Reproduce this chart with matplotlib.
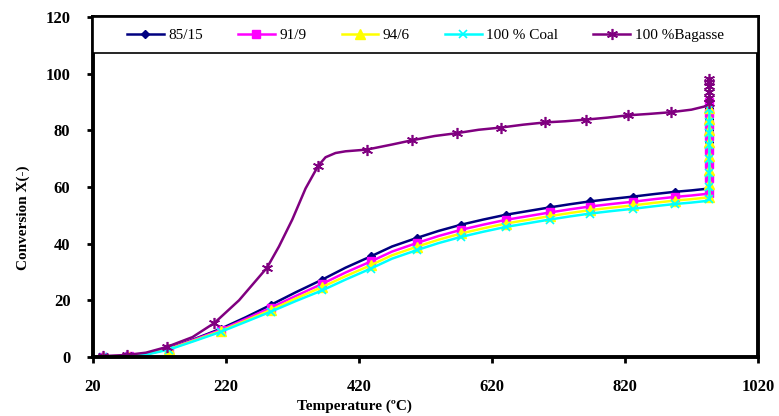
import matplotlib
matplotlib.use("Agg")
import matplotlib.pyplot as plt
from matplotlib.patches import Rectangle

# ---------------- data ----------------
temp = [25, 35, 75, 100, 135, 175, 213, 250, 288, 325, 365, 400, 438, 470, 507,
        540, 574, 607, 641, 674, 707, 737, 767, 800, 832, 864, 895, 920, 940,
        947, 947, 947, 947, 947, 947, 947, 947]

s85_15 = [0, 0, 0.2, 1.0, 3.0, 6.5, 10.0, 14.0, 18.4, 22.8, 27.3, 31.5, 35.5, 39.0, 42.0,
          44.5, 46.7, 48.5, 50.2, 51.5, 52.8, 53.9, 54.9, 55.8, 56.6, 57.5, 58.3, 58.8, 59.3,
          59.8, 64, 68, 72, 76, 80, 84, 88]
s91_9 = [0, 0, 0.2, 1.0, 2.9, 6.3, 9.6, 13.4, 17.4, 21.5, 25.8, 29.8, 33.7, 37.2, 40.2,
         42.7, 44.9, 46.7, 48.4, 49.7, 51.0, 52.1, 53.1, 54.0, 54.8, 55.7, 56.5, 57.0, 57.5,
         58.0, 63, 68, 73, 78, 82, 86, 90]
s94_6 = [0, 0, 0.1, 0.9, 2.8, 6.0, 9.2, 12.8, 16.6, 20.6, 24.7, 28.5, 32.4, 35.9, 38.9,
         41.4, 43.6, 45.4, 47.1, 48.4, 49.7, 50.8, 51.8, 52.7, 53.5, 54.4, 55.2, 55.7, 56.2,
         56.6, 61, 66, 71, 76, 80, 84, 88]
coal = [0, 0, 0.1, 0.8, 2.6, 5.8, 8.9, 12.4, 16.0, 19.7, 23.5, 27.3, 31.2, 34.7, 37.7,
        40.2, 42.4, 44.2, 45.9, 47.2, 48.5, 49.6, 50.6, 51.5, 52.3, 53.2, 54.0, 54.5, 55.0,
        55.6, 60, 65, 70, 75, 79, 83, 87.5]

temp_bag = [25, 35, 71, 100, 131, 170, 203, 240, 282, 300, 320, 340, 359, 370, 385, 400, 432,
            470, 500, 534, 567, 600, 634, 667, 700, 730, 762, 794, 824, 856, 889, 920, 941,
            947, 947, 947, 947, 947, 947]
bagasse = [0, 0.3, 0.7, 1.5, 3.5, 7.0, 12.0, 20.0, 31.5, 39.0, 48.5, 59.5, 67.5, 70.5, 72.0, 72.6, 73.2,
           75.0, 76.5, 78.0, 79.0, 80.2, 81.0, 82.0, 82.8, 83.2, 83.8, 84.5, 85.3, 85.8, 86.4, 87.3, 88.5,
           89.5, 91.5, 93.5, 95.5, 97, 98]

labels = ["85/15", "91/9", "94/6", "100 % Coal", "100 %Bagasse"]
xticks = [20, 220, 420, 620, 820, 1020]
yticks = [0, 20, 40, 60, 80, 100, 120]

mark_coal = [1, 2, 4, 6, 8, 10, 12, 14, 16, 18, 20, 22, 24, 26, 29, 30, 31, 32, 33, 34, 35, 36]
mark_bag = [1, 2, 4, 6, 8, 12, 16, 18, 20, 22, 24, 26, 28, 30, 33, 34, 35, 36, 37, 38]

# ---------------- figure ----------------
plt.rcParams['font.family'] = ['Liberation Serif', 'DejaVu Serif']
fig = plt.figure(figsize=(7.79, 4.16), dpi=100)
ax = fig.add_axes([0.119, 0.142, 0.854, 0.817])

lw = 1.8
ax.plot(temp, s85_15, color='#000080', lw=lw, marker='D', ms=4.5, markevery=mark_coal, label=labels[0])
ax.plot(temp, s91_9, color='#FF00FF', lw=lw, marker='s', ms=6, markevery=mark_coal, label=labels[1])
ax.plot(temp, s94_6, color='#FFFF00', lw=lw, marker='^', ms=6.5, markevery=mark_coal, label=labels[2])
ax.plot(temp, coal, color='#00FFFF', lw=lw, marker='x', ms=6, mew=1.2, markevery=mark_coal, label=labels[3])
ax.plot(temp_bag, bagasse, color='#800080', lw=lw, marker=(6, 2, 0), ms=8, mew=1.2,
        markevery=mark_bag, label=labels[4])

ax.set_xlim(20, 1020)
ax.set_ylim(0, 120)
ax.set_xticks(xticks)
ax.set_yticks(yticks)
ax.tick_params(axis='both', direction='out', length=4, width=2, labelsize=12, pad=12)
for lab in ax.get_xticklabels() + ax.get_yticklabels():
    lab.set_fontweight('bold')
for sp in ax.spines.values():
    sp.set_linewidth(2.8)

ax.set_xlabel("Temperature (ºC)", fontsize=11, fontweight='bold', labelpad=2)
ax.xaxis.set_label_coords(0.394, -0.125)
ax.set_ylabel("Conversion X(-)", fontsize=11, fontweight='bold')
ax.yaxis.set_label_coords(-0.095, 0.41)

# legend box spanning the full width of the plot area
ax.add_patch(Rectangle((0, 0.894), 1, 0.106, transform=ax.transAxes, fill=True,
                       facecolor='white', edgecolor='black', lw=1.2, zorder=5))
leg = ax.legend(loc='center', bbox_to_anchor=(0.5, 0.947), ncol=5, frameon=False,
                fontsize=11, handlelength=2.4, handletextpad=0.3, borderaxespad=0,
                columnspacing=2.3)
leg.set_zorder(6)

fig.savefig("out.png", dpi=100)
